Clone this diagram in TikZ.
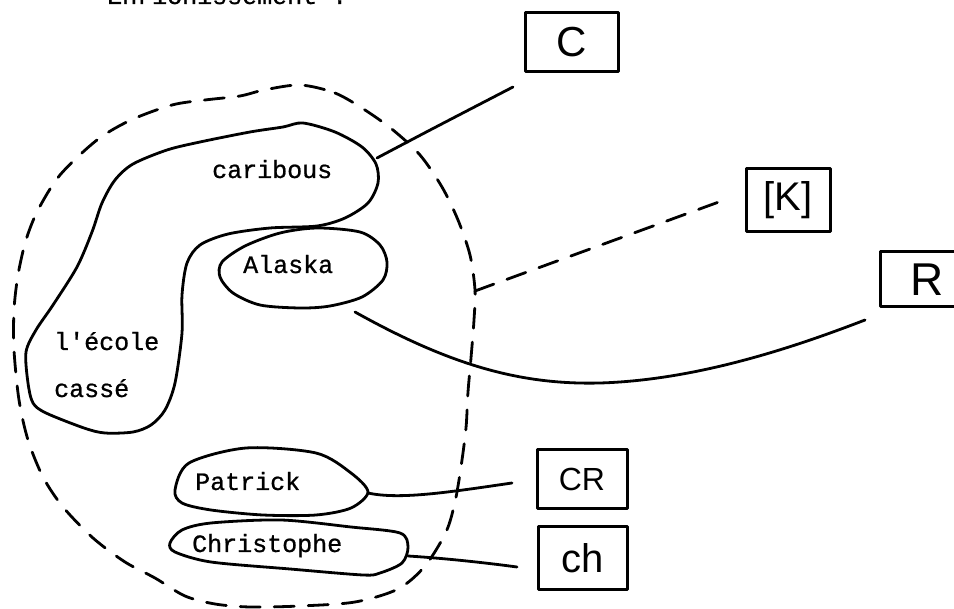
\documentclass[tikz,border=0pt]{standalone}
\usepackage{fontspec}
\setmainfont{Liberation Serif}
\newfontfamily\typew[FakeBold=0.8]{Liberation Mono}
\newfontfamily\hand{Liberation Sans}
\begin{document}
\begin{tikzpicture}[x=1pt,y=-1pt,
  ink/.style={draw=black, line width=2.8pt, line cap=round, line join=round},
  dashink/.style={ink, dash pattern=on 20pt off 14pt},
  lbl/.style={font=\typew\fontsize{25}{30}\selectfont, inner sep=0pt, anchor=base west},
  hbox/.style={draw=black, line width=3pt, inner sep=0pt, line join=round, font=\hand}]
\useasboundingbox[fill=white] (0,0) rectangle (954,609);

% heading (cut off at the top edge, as in the reference)
\node[lbl] (title) at (107,4) {Enrichissement :};

% outer dashed boundary
\draw[dashink] plot[smooth cycle] coordinates {
 (300,85) (335,93) (365,110) (393,130) (420,155) (442,187) (458,220) (470,255)
 (475,290) (474,320) (471,358) (468,392) (466,428) (461,467) (455,502) (446,532)
 (425,566) (398,589) (355,602) (300,606) (250,607) (215,604) (185,596) (155,578)
 (125,562) (93,538) (63,507) (43,477) (28,440) (19,400) (14,350) (14,310)
 (18,275) (26,240) (38,210) (60,175) (97,140) (131,120) (172,105) (205,100)
 (240,96) (264,90)};

% caribous / l'ecole blob
\draw[ink] plot[smooth cycle] coordinates {
 (303,123) (335,132) (362,147) (376,164) (378,183) (368,203) (345,218) (317,226)
 (270,228) (228,234) (200,245) (187,263) (182,295) (182,333) (175,383) (165,410)
 (151,425) (133,432) (105,433) (84,428) (46,413) (33,403) (28,383) (26,352)
 (36,330) (53,305) (77,267) (92,232) (102,203) (115,180) (133,164) (167,150)
 (200,142) (250,132) (283,127)};

% Alaska blob
\draw[ink] plot[smooth cycle] coordinates {
 (222,262) (245,246) (280,233) (317,228) (360,232) (380,245) (387,262) (383,280)
 (362,297) (330,306) (300,308) (260,305) (233,293) (220,277)};

% Patrick blob
\draw[ink] plot[smooth cycle] coordinates {
 (175,490) (189,463) (246,448) (316,453) (351,473) (368,492) (351,508) (316,515)
 (263,515) (211,510) (182,503)};

% Christophe blob
\draw[ink] plot[smooth cycle] coordinates {
 (170,543) (182,530) (211,523) (281,520) (351,527) (400,533) (408,547) (402,563)
 (380,573) (363,575) (290,569) (211,562) (175,552)};

% labels
\node[lbl] (caribous) at (212,178) {caribous};
\node[lbl] (alaska) at (243,273) {Alaska};
\node[lbl] (ecole) at (54,350) {l'école};
\node[lbl] (casse) at (54,397) {cassé};
\node[lbl] (patrick) at (195,490) {Patrick};
\node[lbl] (christophe) at (192,552) {Christophe};

% boxes
\node[hbox, minimum width=93pt, minimum height=59pt] (C) at (571.5,42.5) {\fontsize{42}{48}\selectfont C};
\node[hbox, minimum width=84pt, minimum height=63pt] (K) at (788,200.5) {\fontsize{40}{46}\selectfont [K]};
\node[hbox, minimum width=94pt, minimum height=55pt] (R) at (927,279.5) {\fontsize{46}{52}\selectfont R};
\node[hbox, minimum width=90pt, minimum height=59pt] (CR) at (582,479.5) {\fontsize{32}{38}\selectfont CR};
\node[hbox, minimum width=89pt, minimum height=62pt] (ch) at (582.5,558) {\fontsize{40}{46}\selectfont ch};

% connector end points
\coordinate (cariR) at (377,158);
\coordinate (Cend) at (513,87);
\coordinate (junc) at (475,291);
\coordinate (Kend) at (727,199);
\coordinate (alaskaR) at (355,312);
\coordinate (Rend) at (865,320);
\coordinate (patR) at (368,493);
\coordinate (CRend) at (512,483);
\coordinate (chrR) at (408,556);
\coordinate (chEnd) at (517,567);

% connectors
\draw[ink] (cariR) .. controls (430,130) .. (Cend);
\draw[dashink] (junc) -- (Kend);
\draw[ink] (alaskaR) .. controls (450,365) and (520,385) .. (600,383)
                     .. controls (700,380) and (800,345) .. (Rend);
\draw[ink] (patR) .. controls (400,500) and (450,492) .. (CRend);
\draw[ink] (chrR) .. controls (440,558) and (480,562) .. (chEnd);
\end{tikzpicture}
\end{document}
